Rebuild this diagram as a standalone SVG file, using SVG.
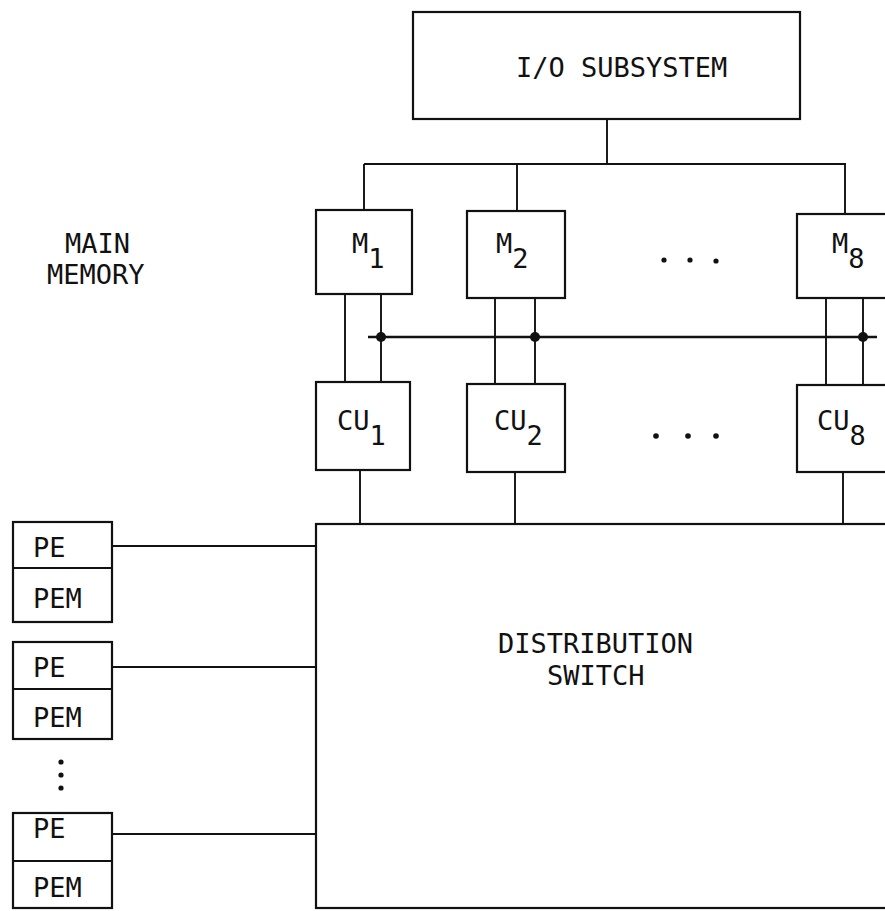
<svg xmlns="http://www.w3.org/2000/svg" width="885" height="911" viewBox="0 0 885 911">
<style>
.box{fill:none;stroke:#111;stroke-width:2.2}
.ln{fill:none;stroke:#111;stroke-width:1.9}
.bus{fill:none;stroke:#111;stroke-width:2.6}
.dot{fill:#111}
text{font-family:"DejaVu Sans Mono","Liberation Mono",monospace;font-size:27px;fill:#111}
</style>
<rect width="885" height="911" fill="#fff"/>
<g id="connectors">
<path class="ln" d="M607 119V164M364 164H846M364 164V210M517 164V211M845 164V214"/>
<path class="ln" d="M345 294V382M381 294V382M495 298V384M535 298V384M826 298V385M863 298V385"/>
<path class="bus" d="M368 337H877"/>
<circle class="dot" cx="381" cy="337" r="5"/>
<circle class="dot" cx="535" cy="337" r="5"/>
<circle class="dot" cx="863" cy="337" r="5"/>
<path class="ln" d="M360 470V524M515 472V524M843 472V524"/>
<path class="ln" d="M112 546H316M112 667H316M112 834H316"/>
</g>
<g id="io">
<rect class="box" x="413" y="12" width="387" height="107"/>
<text x="516" y="77">I/O SUBSYSTEM</text>
</g>
<g id="main-memory-label">
<text x="65" y="253">MAIN</text>
<text x="47" y="284">MEMORY</text>
</g>
<g id="m1">
<rect class="box" x="316" y="210" width="96" height="84"/>
<text x="352" y="253">M<tspan dy="15">1</tspan></text>
</g>
<g id="m2">
<rect class="box" x="467" y="211" width="98" height="87"/>
<text x="496" y="253">M<tspan dy="15">2</tspan></text>
</g>
<g id="m-dots">
<circle class="dot" cx="664" cy="260" r="2.6"/>
<circle class="dot" cx="690" cy="260" r="2.6"/>
<circle class="dot" cx="716" cy="261" r="2.6"/>
</g>
<g id="m8">
<rect class="box" x="797" y="214" width="110" height="84"/>
<text x="832" y="253">M<tspan dy="15">8</tspan></text>
</g>
<g id="cu1">
<rect class="box" x="316" y="382" width="94" height="88"/>
<text x="337" y="430">CU<tspan dy="15">1</tspan></text>
</g>
<g id="cu2">
<rect class="box" x="467" y="384" width="98" height="88"/>
<text x="494" y="430">CU<tspan dy="15">2</tspan></text>
</g>
<g id="cu-dots">
<circle class="dot" cx="656" cy="436" r="2.8"/>
<circle class="dot" cx="688" cy="436" r="2.8"/>
<circle class="dot" cx="716" cy="436" r="2.8"/>
</g>
<g id="cu8">
<rect class="box" x="797" y="385" width="110" height="87"/>
<text x="817" y="430">CU<tspan dy="15">8</tspan></text>
</g>
<g id="switch">
<rect class="box" x="316" y="524" width="600" height="384"/>
<text x="498" y="653">DISTRIBUTION</text>
<text x="547" y="685">SWITCH</text>
</g>
<g id="pe1">
<rect class="box" x="13" y="522" width="99" height="100"/>
<path class="ln" d="M13 568H112"/>
<text x="33" y="557">PE</text>
<text x="33" y="608">PEM</text>
</g>
<g id="pe2">
<rect class="box" x="13" y="642" width="99" height="97"/>
<path class="ln" d="M13 689H112"/>
<text x="33" y="677">PE</text>
<text x="33" y="727">PEM</text>
</g>
<g id="pe-dots">
<circle class="dot" cx="61" cy="762" r="2.6"/>
<circle class="dot" cx="61" cy="775" r="2.6"/>
<circle class="dot" cx="61" cy="788" r="2.6"/>
</g>
<g id="pe3">
<rect class="box" x="13" y="813" width="99" height="95"/>
<path class="ln" d="M13 861H112"/>
<text x="33" y="838">PE</text>
<text x="33" y="897">PEM</text>
</g>
</svg>
